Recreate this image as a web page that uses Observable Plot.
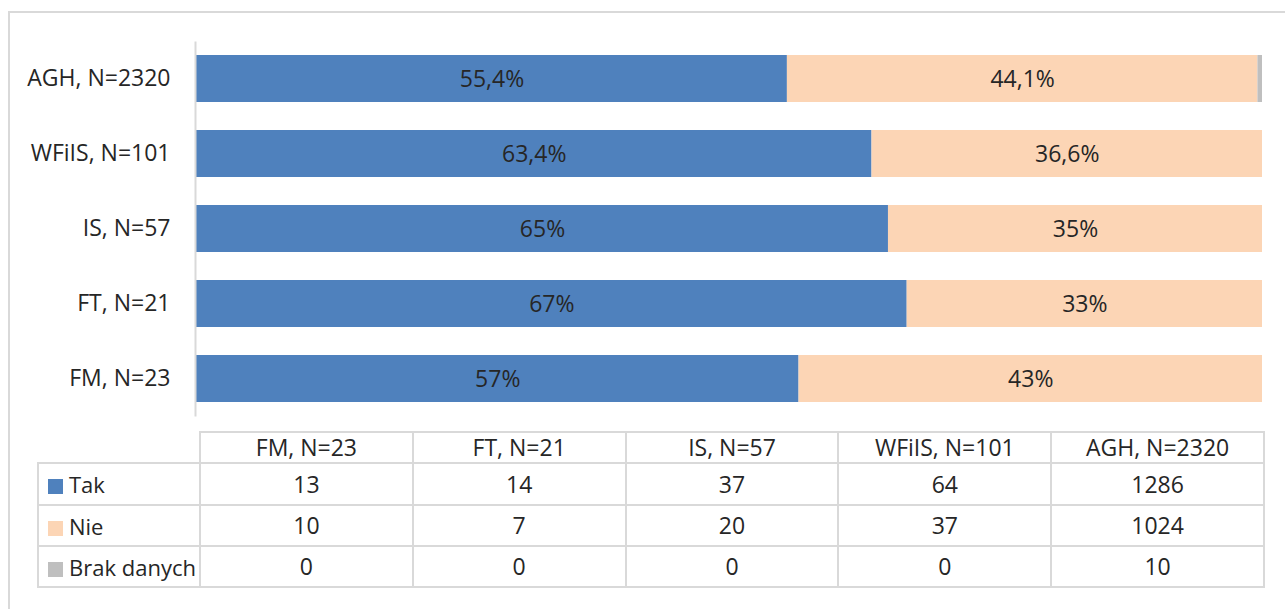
<!DOCTYPE html>
<html><head><meta charset="utf-8">
<script src="https://cdn.jsdelivr.net/npm/d3@7"></script>
<script src="https://cdn.jsdelivr.net/npm/@observablehq/plot@0.6"></script>
<style>
html,body{margin:0;padding:0;background:#fff;overflow:hidden;width:1285px;height:609px;}
body{font-family:"Open Sans",sans-serif;color:#262626;position:relative;}
#frame{position:absolute;left:8px;top:11px;width:1400px;height:700px;border:2px solid #d9d9d9;box-sizing:border-box;}
#chart{position:absolute;left:0;top:0;}
#tbl{position:absolute;left:37px;top:431px;border-collapse:collapse;table-layout:fixed;width:1226px;}
#tbl td{border:2px solid #d9d9d9;text-align:center;font-size:23px;padding:0;line-height:1;white-space:nowrap;}
#tbl td.empty{border:none;}
#tbl td.lab{text-align:left;padding-left:9px;font-size:22px;}
#tbl .sw{display:inline-block;width:15px;height:15px;margin-right:6px;vertical-align:-1px;}
</style></head>
<body>
<div id="frame"></div>
<div id="chart"></div>
<table id="tbl"></table>
<script>
const categories = ["FM, N=23","FT, N=21","IS, N=57","WFiIS, N=101","AGH, N=2320"];
const series = ["Tak","Nie","Brak danych"];
const colors = ["#4F81BD","#FCD5B5","#BFBFBF"];
const tak = [13,14,37,64,1286];
const nie = [10,7,20,37,1024];
const brak = [0,0,0,0,10];
const takLabels = ["57%","67%","65%","63,4%","55,4%"];
const nieLabels = ["43%","33%","35%","36,6%","44,1%"];
const barOrder = [...categories].reverse();

const rows = [];
categories.forEach((c,i)=>{
  rows.push({cat:c, series:"Tak", value:tak[i], label:takLabels[i]});
  rows.push({cat:c, series:"Nie", value:nie[i], label:nieLabels[i]});
  rows.push({cat:c, series:"Brak danych", value:brak[i], label:""});
});

const chart = Plot.plot({
  width:1285, height:420,
  marginLeft:196, marginRight:23, marginTop:41.5, marginBottom:3.5,
  style:{fontFamily:'"Open Sans", sans-serif', fontSize:"23px", color:"#262626", background:"transparent", overflow:"visible"},
  x:{domain:[0,1], axis:null},
  y:{domain:barOrder, paddingInner:0.373, paddingOuter:0.1865, label:null, axis:null},
  color:{domain:series, range:colors},
  marks:[
    Plot.barX(rows, Plot.stackX({x:"value", y:"cat", fill:"series", offset:"normalize"})),
    Plot.textX(rows, Plot.stackX({x:"value", y:"cat", z:"series", text:"label", offset:"normalize", fill:"#262626", fontSize:23, dy:1})),
    Plot.ruleX([0], {stroke:"#d9d9d9", strokeWidth:2, dx:-1}),
    Plot.axisY({domain:barOrder, tickSize:0, tickPadding:26, fontSize:23, fill:"#262626", label:null})
  ]
});
document.getElementById("chart").appendChild(chart);

// data table
const tbl = document.getElementById("tbl");
const cg = document.createElement("colgroup");
[162,212.8,212.8,212.8,212.8,212.8].forEach(w=>{const c=document.createElement("col");c.style.width=w+"px";cg.appendChild(c);});
tbl.appendChild(cg);
const hr = tbl.insertRow();
hr.style.height="31px";
const e = hr.insertCell(); e.className="empty";
categories.forEach(c=>{hr.insertCell().textContent=c;});
const vals=[tak,nie,brak];
const heights=[42,41,41];
series.forEach((s,k)=>{
  const r=tbl.insertRow();
  r.style.height=heights[k]+"px";
  const l=r.insertCell(); l.className="lab";
  const sw=document.createElement("span"); sw.className="sw"; sw.style.background=colors[k];
  l.appendChild(sw); l.appendChild(document.createTextNode(s));
  vals[k].forEach(v=>{r.insertCell().textContent=v;});
});
</script>
</body></html>
